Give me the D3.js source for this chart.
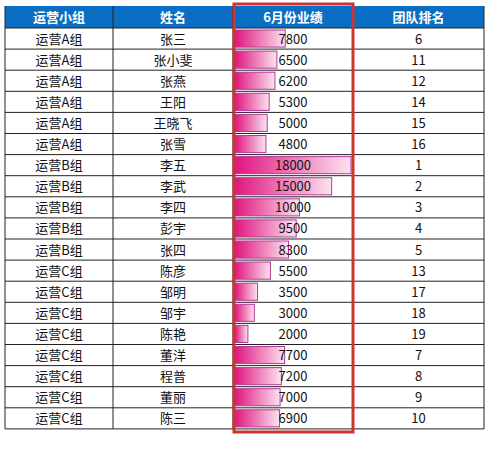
<!DOCTYPE html>
<html>
<head>
<meta charset="utf-8">
<script src="https://d3js.org/d3.v7.min.js"></script>
<style>body{margin:0;background:#fff;}</style>
</head>
<body>
<div id="chart"></div>
<script>
var headers = ["运营小组", "姓名", "6月份业绩", "团队排名"];
var groups = ["运营A组","运营A组","运营A组","运营A组","运营A组","运营A组","运营B组","运营B组","运营B组","运营B组","运营B组","运营C组","运营C组","运营C组","运营C组","运营C组","运营C组","运营C组","运营C组"];
var names = ["张三","张小斐","张燕","王阳","王晓飞","张雪","李五","李武","李四","彭宇","张四","陈彦","邹明","邹宇","陈艳","董洋","程普","董丽","陈三"];
var sales = [7800,6500,6200,5300,5000,4800,18000,15000,10000,9500,8300,5500,3500,3000,2000,7700,7200,7000,6900];
var ranks = [6,11,12,14,15,16,1,2,3,4,5,13,17,18,19,7,8,9,10];

var W = 492, H = 454;
var colX = [5, 113, 233, 353, 484];
var topY = 6, headH = 22, rowH = 21.1;
var font = "'Noto Sans CJK SC', 'Noto Sans', sans-serif";

var svg = d3.select("#chart").append("svg").attr("width", W).attr("height", H);
var defs = svg.append("defs");
var grad = defs.append("linearGradient").attr("id", "bar");
grad.append("stop").attr("offset", "0%").attr("stop-color", "#e0157f");
grad.append("stop").attr("offset", "100%").attr("stop-color", "#fbe3f0");

// header
svg.append("rect").attr("x", colX[0]).attr("y", topY).attr("width", colX[4] - colX[0]).attr("height", headH).attr("fill", "#0a6fc2");
headers.forEach(function(h, i) {
  svg.append("text").attr("x", (colX[i] + colX[i+1]) / 2).attr("y", topY + headH / 2 + 5)
    .attr("text-anchor", "middle").attr("font-family", font).attr("font-weight", "bold")
    .attr("font-size", 13).attr("fill", "#fff").text(h);
});

var y = d3.scaleBand().domain(d3.range(names.length)).range([topY + headH, topY + headH + rowH * names.length]);
var x = d3.scaleLinear().domain([0, 18000]).range([colX[2] + 2, colX[3] - 2]);

var rows = svg.selectAll("g.row").data(names).enter().append("g").attr("class", "row")
  .attr("transform", function(d, i) { return "translate(0," + y(i) + ")"; });

rows.append("rect").attr("x", x(0)).attr("y", 2)
  .attr("width", function(d, i) { return x(sales[i]) - x(0); }).attr("height", rowH - 4)
  .attr("fill", "url(#bar)").attr("stroke", "#b5399a").attr("stroke-width", 1);

function cellText(col, fn) {
  rows.append("text").attr("x", (colX[col] + colX[col+1]) / 2).attr("y", rowH / 2 + 5)
    .attr("text-anchor", "middle").attr("font-family", font).attr("font-size", 13).attr("fill", "#111")
    .text(fn);
}
cellText(0, function(d, i) { return groups[i]; });
cellText(1, function(d, i) { return names[i]; });
cellText(2, function(d, i) { return sales[i]; });
cellText(3, function(d, i) { return ranks[i]; });

// grid lines
var bottom = topY + headH + rowH * names.length;
d3.range(names.length + 1).forEach(function(i) {
  var yy = topY + headH + rowH * i;
  svg.append("line").attr("x1", colX[0]).attr("x2", colX[4]).attr("y1", yy).attr("y2", yy).attr("stroke", "#222").attr("stroke-width", 1);
});
colX.forEach(function(cx) {
  svg.append("line").attr("x1", cx).attr("x2", cx).attr("y1", topY).attr("y2", bottom).attr("stroke", "#222").attr("stroke-width", 1);
});

// red highlight
svg.append("rect").attr("x", 234).attr("y", 4).attr("width", 119).attr("height", 428)
  .attr("fill", "none").attr("stroke", "#cc3333").attr("stroke-width", 3);
</script>
</body>
</html>
